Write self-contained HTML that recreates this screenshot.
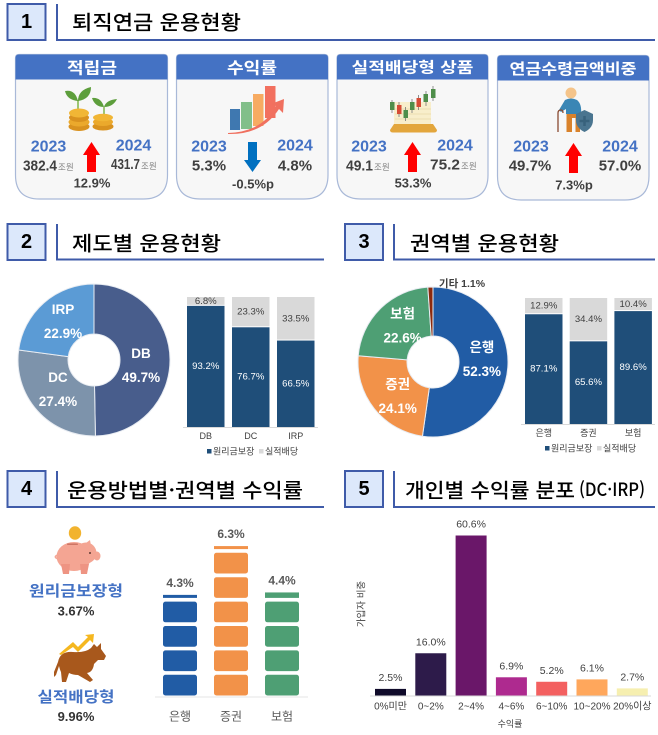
<!DOCTYPE html>
<html lang="ko">
<head>
<meta charset="utf-8">
<title>퇴직연금 운용현황</title>
<style>
html,body{margin:0;padding:0;background:#fff;}
svg{display:block;}
text{font-family:"Liberation Sans","Noto Sans CJK KR",sans-serif;dominant-baseline:central;}
.kr{font-family:"Noto Sans CJK KR","Liberation Sans",sans-serif;}
.num{font-size:20px;font-weight:700;fill:#000;text-anchor:middle;}
.title{font-family:"Noto Sans CJK KR","Liberation Sans",sans-serif;font-size:20px;font-weight:500;fill:#000;}
.chead{font-family:"Noto Sans CJK KR",sans-serif;font-size:16px;font-weight:700;fill:#fff;text-anchor:middle;}
.yr{font-size:16px;font-weight:700;fill:#4472c4;text-anchor:middle;}
.val{font-size:15px;font-weight:700;fill:#404040;}
.unit{font-family:"Noto Sans CJK KR",sans-serif;font-size:8.5px;fill:#808080;}
.chg{font-size:13px;font-weight:700;fill:#404040;text-anchor:middle;}
.hbox{fill:#dce8fb;stroke:#3f5ba9;stroke-width:2;}
.hline{fill:none;stroke:#3f5ba9;stroke-width:2;}
.card{fill:#f7f7f7;stroke:#a9b9d8;stroke-width:1.2;}
.cardh{fill:#4472c4;}
.lg{font-family:"Noto Sans CJK KR",sans-serif;font-size:9px;fill:#404040;}
.ptitle{font-family:"Noto Sans CJK KR",sans-serif;font-size:15px;font-weight:700;fill:#4472c4;text-anchor:middle;}
.pval{font-size:13px;font-weight:700;fill:#333;text-anchor:middle;}
.ax{font-size:9px;fill:#404040;text-anchor:middle;}
</style>
</head>
<body>
<svg id="root" xmlns="http://www.w3.org/2000/svg" width="658" height="735" viewBox="0 0 658 735">
  <rect width="658" height="735" fill="#fff"/>

  <!-- Section headers -->
  <g>
    <rect class="hbox" x="7.5" y="4" width="38" height="36"/>
    <text class="num" x="26.5" y="22">1</text>
    <path class="hline" d="M57 4V40H655"/>
    <text class="title" x="72" y="21" textLength="169" lengthAdjust="spacingAndGlyphs">퇴직연금 운용현황</text>
  </g>
  <g>
    <rect class="hbox" x="7.5" y="224" width="38" height="36"/>
    <text class="num" x="26.5" y="242">2</text>
    <path class="hline" d="M57 224V259.500H324"/>
    <text class="title" x="72" y="242" textLength="149" lengthAdjust="spacingAndGlyphs">제도별 운용현황</text>
  </g>
  <g>
    <rect class="hbox" x="345" y="224" width="38" height="36"/>
    <text class="num" x="364" y="242">3</text>
    <path class="hline" d="M394 224V259.500H655"/>
    <text class="title" x="410" y="242" textLength="149" lengthAdjust="spacingAndGlyphs">권역별 운용현황</text>
  </g>
  <g>
    <rect class="hbox" x="7.500" y="471" width="38" height="36"/>
    <text class="num" x="26.5" y="489">4</text>
    <path class="hline" d="M57 471V507H324"/>
    <text class="title" x="67" y="489" textLength="236" lengthAdjust="spacingAndGlyphs">운용방법별·권역별 수익률</text>
  </g>
  <g>
    <rect class="hbox" x="345" y="471" width="38" height="36"/>
    <text class="num" x="364" y="489">5</text>
    <path class="hline" d="M394 471V507H655"/>
    <text class="title" x="405" y="489" textLength="170" lengthAdjust="spacingAndGlyphs">개인별 수익률 분포</text>
    <text class="title" x="579" y="489" style="font-size:18px" textLength="66" lengthAdjust="spacingAndGlyphs">(DC·IRP)</text>
  </g>

  <!-- Card 1 -->
  <g>
    <path class="card" d="M19 54.500H164Q167.500 54.500 167.500 58V175Q167.500 199 143.500 199H39.500Q15.500 199 15.500 175V58Q15.500 54.500 19 54.500Z"/>
    <path class="cardh" d="M19 54.500H164Q167.500 54.500 167.500 58V79.500H15.500V58Q15.500 54.500 19 54.500Z"/>
    <text class="chead" x="92" y="66.500" textLength="50" lengthAdjust="spacingAndGlyphs">적립금</text>
    <g>
      <path d="M78 111V100" stroke="#7fb548" stroke-width="1.500" fill="none"/>
      <path d="M78 101Q67 100 65 91Q75 89 78 101Z" fill="#5d9e3c"/>
      <path d="M78 101Q78 90 91 87Q91 99 78 101Z" fill="#5d9e3c"/>
      <path d="M104 116V107" stroke="#7fb548" stroke-width="1.500" fill="none"/>
      <path d="M104 107Q95 107 92 98Q101 97 104 107Z" fill="#5d9e3c"/>
      <path d="M104 107Q106 100 117 99Q113 107 104 107Z" fill="#5d9e3c"/>
      <ellipse cx="79" cy="126.500" rx="10.500" ry="4.500" fill="#d9921f"/>
      <ellipse cx="79" cy="122" rx="10.500" ry="4.500" fill="#eba92c"/>
      <ellipse cx="79" cy="117.500" rx="10" ry="4.500" fill="#d9921f"/>
      <ellipse cx="79" cy="113" rx="10" ry="4.500" fill="#f1b635"/>
      <ellipse cx="103" cy="126.500" rx="10.500" ry="4" fill="#d9921f"/>
      <ellipse cx="103" cy="122" rx="10" ry="4" fill="#eba92c"/>
      <ellipse cx="103" cy="117.500" rx="10" ry="3.800" fill="#f1b635"/>
    </g>
    <text class="yr" x="48.500" y="147">2023</text>
    <text class="yr" x="133.500" y="146">2024</text>
    <text class="val" x="23" y="166" textLength="34" lengthAdjust="spacingAndGlyphs">382.4</text>
    <text class="unit" x="58" y="167">조원</text>
    <text class="val" x="111" y="164.500" textLength="29" lengthAdjust="spacingAndGlyphs">431.7</text>
    <text class="unit" x="141" y="166">조원</text>
    <path d="M91.500 142L100 155H96V172H87V155H83Z" fill="#ff0000"/>
    <text class="chg" x="92" y="183">12.9%</text>
  </g>

  <!-- Card 2 -->
  <g>
    <path class="card" d="M180 54.500H324.500Q328 54.500 328 58V175Q328 199 304 199H200.500Q176.500 199 176.500 175V58Q176.500 54.500 180 54.500Z"/>
    <path class="cardh" d="M180 54.500H324.500Q328 54.500 328 58V79.500H176.500V58Q176.500 54.500 180 54.500Z"/>
    <text class="chead" x="252" y="66.500" textLength="50" lengthAdjust="spacingAndGlyphs">수익률</text>
    <g>
      <rect x="230" y="109" width="10" height="21" fill="#3f78b0"/>
      <rect x="241" y="102" width="11" height="27" fill="#82bf8a"/>
      <rect x="253" y="94" width="10.500" height="32" fill="#f7ab62"/>
      <rect x="265" y="86" width="10.500" height="32" fill="#f2705f"/>
      <path d="M228 133Q262 132 276 106L271 104L284 99L283 113L279 109Q262 135 228 134Z" fill="#f0705f"/>
    </g>
    <text class="yr" x="209" y="147">2023</text>
    <text class="yr" x="295" y="146">2024</text>
    <text class="val" x="209" y="166" text-anchor="middle">5.3%</text>
    <text class="val" x="295" y="166" text-anchor="middle">4.8%</text>
    <path d="M248 142H257V160H261L252.500 172L244 160H248Z" fill="#0070c0"/>
    <text class="chg" x="253" y="184">-0.5%p</text>
  </g>

  <!-- Card 3 -->
  <g>
    <path class="card" d="M340.500 54.500H484.500Q488 54.500 488 58V175Q488 199 464 199H361Q337 199 337 175V58Q337 54.500 340.500 54.500Z"/>
    <path class="cardh" d="M340.500 54.500H484.500Q488 54.500 488 58V79.500H337V58Q337 54.500 340.500 54.500Z"/>
    <text class="chead" x="412.500" y="67" style="font-size:15px" textLength="122" lengthAdjust="spacingAndGlyphs">실적배당형 상품</text>
    <g>
      <path d="M394 102H431V125H394Z" fill="#f8eecb"/>
      <path d="M395 109H431M395 114H431M395 119H431" stroke="#e8d9a8" stroke-width="0.800"/>
      <path d="M394 124H433L437 130Q437 132.500 434 132.500H393Q390 132.500 390 130Z" fill="#e3a63c"/>
      <path d="M392 100V113M399 102V117M405.500 107V121M412 99V113M418.500 95V110M426 91V106M433 86V101" stroke="#777" stroke-width="0.800"/>
      <rect x="390" y="102" width="4.500" height="8" fill="#4f8e4a"/>
      <rect x="397" y="105" width="4.500" height="9" fill="#d64b35"/>
      <rect x="403.500" y="110" width="4.500" height="8" fill="#4f8e4a"/>
      <rect x="410" y="102" width="4.500" height="8" fill="#4f8e4a"/>
      <rect x="416.500" y="98" width="4.500" height="9" fill="#d64b35"/>
      <rect x="423.500" y="94" width="4.500" height="8" fill="#4f8e4a"/>
      <rect x="431" y="89" width="4.500" height="9" fill="#4f8e4a"/>
    </g>
    <text class="yr" x="369" y="147">2023</text>
    <text class="yr" x="455" y="146">2024</text>
    <text class="val" x="346" y="166" textLength="27" lengthAdjust="spacingAndGlyphs">49.1</text>
    <text class="unit" x="374" y="167">조원</text>
    <text class="val" x="430" y="165" textLength="30" lengthAdjust="spacingAndGlyphs">75.2</text>
    <text class="unit" x="461" y="166">조원</text>
    <path d="M412.500 142L421 155H417V172H408V155H404Z" fill="#ff0000"/>
    <text class="chg" x="413" y="183">53.3%</text>
  </g>

  <!-- Card 4 -->
  <g>
    <path class="card" d="M501 55.500H645.500Q649 55.500 649 59V176Q649 200 625 200H521Q497.500 200 497.500 176V59Q497.500 55.500 501 55.500Z"/>
    <path class="cardh" d="M501 55.500H645.500Q649 55.500 649 59V80.500H497.500V59Q497.500 55.500 501 55.500Z"/>
    <text class="chead" x="573" y="68.500" style="font-size:15px" textLength="127" lengthAdjust="spacingAndGlyphs">연금수령금액비중</text>
    <g>
      <circle cx="571" cy="93" r="5.500" fill="#f5c48a"/>
      <path d="M565 100Q571 97 577 100Q582 104 581 114H566V109L561 112L559 110Z" fill="#3a86b5"/>
      <path d="M566.500 114H580V132H575.500V118H572V132H566.500Z" fill="#d9822b"/>
      <path d="M558 132V113Q558 110 561 110Q563 110 563 113" stroke="#8a4b32" stroke-width="1.300" fill="none"/>
      <path d="M584.500 110L593 114V120Q593 128 584.500 132Q576 128 576 120V114Z" fill="#4a7590"/>
      <path d="M584.500 116V126M579.500 121H589.500" stroke="#38627c" stroke-width="2.500"/>
    </g>
    <text class="yr" x="531" y="147">2023</text>
    <text class="yr" x="620" y="147">2024</text>
    <text class="val" x="530" y="166" text-anchor="middle">49.7%</text>
    <text class="val" x="620" y="166" text-anchor="middle">57.0%</text>
    <path d="M573.500 143L582 156H578V173H569V156H565Z" fill="#ff0000"/>
    <text class="chg" x="574" y="185">7.3%p</text>
  </g>

  <!-- Section 4 left -->
  <g>
    <ellipse cx="75" cy="533" rx="6.200" ry="6.800" fill="#f2b32e"/>
    <g>
      <ellipse cx="74" cy="556.500" rx="17.500" ry="14.500" fill="#f4a593"/>
      <circle cx="86" cy="553" r="10.500" fill="#f4a593"/>
      <ellipse cx="97" cy="556" rx="3.500" ry="4.500" fill="#f4a593"/>
      <path d="M82 546L90 540L92 551Z" fill="#f4a593"/>
      <path d="M61 564H70L69 574H63Z" fill="#ee9483"/>
      <path d="M80 564H89L87 574H81Z" fill="#ee9483"/>
      <circle cx="90" cy="553" r="1" fill="#5e3b33"/>
      <rect x="67" y="543.500" width="11" height="1.400" rx=".7" fill="#c9705f"/>
      <path d="M58 555Q54 556 56 558Q58 559 59 557" stroke="#f4a593" stroke-width="1.500" fill="none"/>
    </g>
    <text class="ptitle" x="76" y="590.500" textLength="94" lengthAdjust="spacingAndGlyphs">원리금보장형</text>
    <text class="pval" x="76" y="611">3.67%</text>
  </g>
  <g>
    <path d="M59 654L73 642L78 647L88 637L85 635L94 634L93 643L90 640L78 652L73 647L61 655Z" fill="#f5b71f"/>
    <path d="M58 662Q60 651 73 652Q85 653 91 648L94 644L97 647L101 643L101 649L106 656L104 660L98 660L94 664Q93 672 87 673L93 680L90 682L78 675Q73 675 69 673L66 682L62 682L61 672Q60 670 59 666L56 675L54 677L54 672Z" fill="#a8581c"/>
    <text class="ptitle" x="76" y="696.500" textLength="77" lengthAdjust="spacingAndGlyphs">실적배당형</text>
    <text class="pval" x="76" y="716.500">9.96%</text>
  </g>

  <!-- Chart containers -->
  <g id="donut1"></g>
  <g id="stack1"></g>
  <g id="donut2"></g>
  <g id="stack2"></g>
  <g id="picto"></g>
  <g id="dist"></g>
</svg>

<script>
// Section 2 donut
const schemeLabels = ['DB', 'DC', 'IRP'];
const schemeShares = [49.7, 27.4, 22.9];
// Section 2 stacked bars
const schemeBarLabels = ['DB', 'DC', 'IRP'];
const schemeGuaranteed = [93.2, 76.7, 66.5];
const schemePerformance = [6.8, 23.3, 33.5];
// Section 3 donut
const sectorLabels = ['은행', '증권', '보험', '기타'];
const sectorShares = [52.3, 24.1, 22.6, 1.1];
// Section 3 stacked bars
const sectorBarLabels = ['은행', '증권', '보험'];
const sectorGuaranteed = [87.1, 65.6, 89.6];
const sectorPerformance = [12.9, 34.4, 10.4];
// Section 4 pictogram
const returnSectors = ['은행', '증권', '보험'];
const returnRates = [4.3, 6.3, 4.4];
// Section 5 distribution
const distBins = ['0%미만', '0~2%', '2~4%', '4~6%', '6~10%', '10~20%', '20%이상'];
const distShares = [2.5, 16.0, 60.6, 6.9, 5.2, 6.1, 2.7];

const NS = 'http://www.w3.org/2000/svg';
function make(parent, tag, attrs, txt) {
  const el = document.createElementNS(NS, tag);
  for (const k in attrs) el.setAttribute(k, attrs[k]);
  if (txt !== undefined) el.textContent = txt;
  parent.appendChild(el);
  return el;
}
const pct = v => v.toFixed(1) + '%';

function drawDonut(host, labels, values, colors, cx, cy, R, r, labelR, nudgeFn) {
  const total = values.reduce((a, b) => a + b, 0);
  const angle = v => v / total * Math.PI * 2;
  const pt = (rad, a) => [cx + rad * Math.sin(a), cy - rad * Math.cos(a)];
  let start = 0;
  values.forEach((v, i) => {
    const end = start + angle(v);
    const large = end - start > Math.PI ? 1 : 0;
    const p1 = pt(R, start), p2 = pt(R, end), p3 = pt(r, end), p4 = pt(r, start);
    const d = `M${p1}A${R} ${R} 0 ${large} 1 ${p2}L${p3}A${r} ${r} 0 ${large} 0 ${p4}Z`;
    const slice = make(host, 'path', {d: d, fill: colors[i], stroke: '#e8ecf2', 'stroke-width': 1});
    
    
    const mid = (start + end) / 2;
    if (v / total > 0.05) {
      const c = pt(labelR, mid);
      const off = nudgeFn(i);
      const name = make(host, 'text', {x: c[0] + off[0], y: c[1] - 12 + off[1], 'text-anchor': 'middle', fill: '#fff', 'font-size': 13.5, 'font-weight': 700}, labels[i]);
      
      
      const val = make(host, 'text', {x: c[0] + off[0], y: c[1] + 12 + off[1], 'text-anchor': 'middle', fill: '#fff', 'font-size': 13.5, 'font-weight': 700}, pct(v));
      
      
    } else {
      const out = make(host, 'text', {x: 462, y: 284, 'text-anchor': 'middle', fill: '#404040', 'font-size': 10.5, 'font-weight': 700}, labels[i] + ' ' + pct(v));
      
      
    }
    start = end;
  });
}

function drawStack(host, cats, lower, upper, left, step, barW, top, bottom, axisL, axisR, lgX) {
  const y = v => bottom - v / 100 * (bottom - top);
  cats.forEach((c, i) => {
    const x = left + i * step;
    const a = make(host, 'rect', {x: x, y: y(lower[i]), width: barW, height: bottom - y(lower[i]), fill: '#1f4e79'});
    
    
    const b = make(host, 'rect', {x: x, y: y(lower[i] + upper[i]), width: barW, height: y(lower[i]) - y(lower[i] + upper[i]) - 1, fill: '#d9d9d9'});
    
    
    const t1 = make(host, 'text', {x: x + barW / 2, y: y(lower[i] / 2), 'text-anchor': 'middle', fill: '#fff', 'font-size': 9.6}, pct(lower[i]));
    
    
    const t2 = make(host, 'text', {x: x + barW / 2, y: y(lower[i] + upper[i] / 2), 'text-anchor': 'middle', fill: '#404040', 'font-size': 9.6}, pct(upper[i]));
    
    
    const t3 = make(host, 'text', {class: 'ax', x: x + barW / 2, y: bottom + 9}, c);
    
    
  });
  const axis = make(host, 'line', {x1: axisL, x2: axisR, y1: bottom + .5, y2: bottom + .5, stroke: '#d9d9d9', 'stroke-width': 1});
  
  
  const s1 = make(host, 'rect', {x: lgX, y: bottom + 22, width: 4.5, height: 4.5, fill: '#1f4e79'});
  
  
  const l1 = make(host, 'text', {class: 'lg', x: lgX + 6, y: bottom + 24}, '원리금보장');
  
  
  const s2 = make(host, 'rect', {x: lgX + 52, y: bottom + 22, width: 4.5, height: 4.5, fill: '#d9d9d9'});
  
  
  const l2 = make(host, 'text', {class: 'lg', x: lgX + 58, y: bottom + 24}, '실적배당');
  
  
}

drawDonut(document.getElementById('donut1'), schemeLabels, schemeShares,
  ['#485d8c', '#7d93ab', '#5b9bd5'], 94, 360, 76, 26, 47,
  i => [[0, 6], [-1, -2], [0, -3]][i]);
drawStack(document.getElementById('stack1'), schemeBarLabels, schemeGuaranteed, schemePerformance,
  187, 45, 37.5, 297, 427, 183, 318, 207);

drawDonut(document.getElementById('donut2'), sectorLabels, sectorShares,
  ['#215ca5', '#f29249', '#4e9f74', '#8b2a0e'], 433, 362, 75, 26, 49,
  i => [[0, -6], [3, 4], [4, -1], [0, 0]][i]);
drawStack(document.getElementById('stack2'), sectorBarLabels, sectorGuaranteed, sectorPerformance,
  525, 44.7, 37.5, 298, 424, 521, 655, 545);

// Pictogram: stacked rounded blocks, one block per percentage point
(function () {
  const host = document.getElementById('picto');
  const colors = ['#215ca5', '#f29249', '#4e9f74'];
  const base = 695.5, unit = 24.4, blockH = 20.7, left = 163, step = 51, w = 34, crop = 4.3;
  returnRates.forEach((v, i) => {
    const x = left + i * step;
    const full = Math.floor(v);
    for (let k = 0; k < full; k++) {
      const b = make(host, 'rect', {x: x, y: base - k * unit - blockH, width: w, height: blockH, rx: 2.5, fill: colors[i]});
      
      
    }
    const partial = (v - full) * unit - crop;
    const floorY = base - full * unit;
    if (partial > 0) {
      const p = make(host, 'rect', {x: x, y: floorY - partial, width: w, height: partial, fill: colors[i]});
      
      
    }
    const topY = partial > 0 ? floorY - partial : floorY + 3.7;
    const t = make(host, 'text', {x: x + w / 2, y: topY - 12, 'text-anchor': 'middle', fill: '#595959', 'font-size': 12, 'font-weight': 700}, pct(v));
    
    
    const c = make(host, 'text', {class: 'kr', x: x + w / 2, y: 716, 'text-anchor': 'middle', fill: '#595959', 'font-size': 12}, returnSectors[i]);
    
    
  });
  const axis = make(host, 'line', {x1: 155, x2: 308, y1: 697, y2: 697, stroke: '#e6e6e6', 'stroke-width': 1});
  
  
})();

// Distribution bars
(function () {
  const host = document.getElementById('dist');
  const colors = ['#0f0a2a', '#2d1b4a', '#6a1769', '#ae2a8f', '#f36060', '#ffa75c', '#f6efb0'];
  const base = 695.5, scale = 160 / 60.6, left = 375, step = 40.3, w = 31;
  const y = v => base - v * scale;
  distBins.forEach((c, i) => {
    const x = left + i * step;
    const b = make(host, 'rect', {x: x, y: y(distShares[i]), width: w, height: base - y(distShares[i]), fill: colors[i]});
    
    
    const t = make(host, 'text', {x: x + w / 2, y: y(distShares[i]) - 11, 'text-anchor': 'middle', fill: '#404040', 'font-size': 10.5}, pct(distShares[i]));
    
    
    const l = make(host, 'text', {x: x + w / 2, y: 707, 'text-anchor': 'middle', fill: '#404040', 'font-size': 10}, c);
    
    
  });
  const axis = make(host, 'line', {x1: 370, x2: 651, y1: 696, y2: 696, stroke: '#d9d9d9', 'stroke-width': 1});
  
  
  const xt = make(host, 'text', {class: 'ax', x: 510, y: 724}, '수익률');
  
  
  const yt = make(host, 'text', {class: 'ax', x: 0, y: 0, transform: 'translate(362 604) rotate(-90)', style: 'font-size:9.5px'}, '가입자 비중');
  
  
})();
</script>
</body>
</html>
